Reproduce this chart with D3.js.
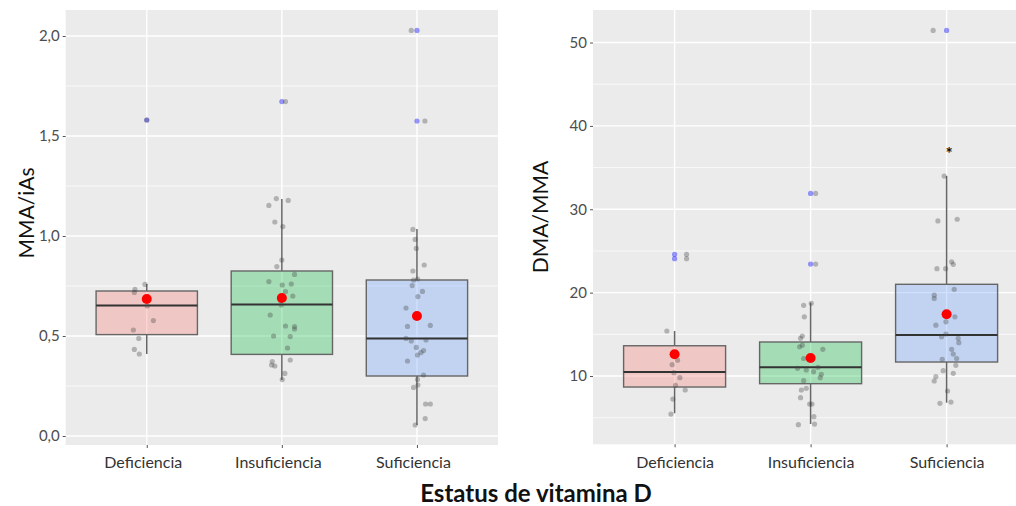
<!DOCTYPE html>
<html><head><meta charset="utf-8">
<script src="https://cdn.jsdelivr.net/npm/d3@7"></script>
<style>body{margin:0;background:#fff}svg{display:block;font-family:Lato,"Open Sans",sans-serif}</style>
</head><body><svg id="c" width="1016" height="506"></svg>
<script>
// ---------- data ----------
const categories = ["Deficiencia", "Insuficiencia", "Suficiencia"];

// Left panel: MMA/iAs
const mmaTicks = [0, 0.5, 1.0, 1.5, 2.0];
const mmaTickLabels = ["0,0", "0,5", "1,0", "1,5", "2,0"];
const mmaMinor = [0.25, 0.75, 1.25, 1.75];
const mmaQ1 = [0.507, 0.408, 0.300];
const mmaMedian = [0.652, 0.657, 0.487];
const mmaQ3 = [0.725, 0.825, 0.780];
const mmaWhiskerLow = [0.410, 0.280, 0.055];
const mmaWhiskerHigh = [0.760, 1.185, 1.035];
const mmaMean = [0.685, 0.690, 0.600];
const mmaOutliers = [[1.58], [1.672], [2.028, 1.575]];
// observed points: [value, horizontal jitter in category units]
const mmaDef = [[0.758,-0.013],[0.733,-0.087],[0.718,-0.092],[0.65,0.004],[0.577,0.049],[0.53,-0.099],[0.488,-0.059],[0.433,-0.092],[0.41,-0.055],[1.58,0]];
const mmaIns = [[0.88,0],[0.847,-0.037],[0.808,0.094],[0.772,-0.096],[0.755,0.003],[0.76,0.07],[0.722,0.027],[0.70,0.081],[0.677,-0.01],[0.655,-0.004],[0.605,-0.086],[0.55,0.027],[0.547,0.094],[0.535,0.094],[0.50,-0.061],[0.497,0.062],[0.44,0.042],[0.38,0.062],[0.372,-0.071],[0.355,-0.076],[0.35,-0.052],[0.313,0.022],[0.282,0.003],[1.153,-0.096],[1.187,-0.041],[1.178,0.047],[1.07,-0.052],[1.047,0.007],[1.672,0.027]];
const mmaSuf = [[2.028,-0.042],[1.575,0.059],[1.033,-0.03],[0.983,-0.013],[0.938,-0.005],[0.855,0.054],[0.825,-0.03],[0.78,-0.025],[0.785,0.005],[0.752,-0.035],[0.723,0.041],[0.697,0.007],[0.64,-0.081],[0.548,-0.07],[0.553,0.099],[0.488,-0.081],[0.475,-0.042],[0.48,0.067],[0.443,-0.005],[0.427,0.049],[0.417,0.03],[0.405,0.004],[0.375,-0.07],[0.305,0.049],[0.283,0.004],[0.255,0.007],[0.243,-0.025],[0.16,0.064],[0.16,0.099],[0.087,0.061],[0.055,-0.013]];

// Right panel: DMA/MMA
const dmaTicks = [10, 20, 30, 40, 50];
const dmaTickLabels = ["10", "20", "30", "40", "50"];
const dmaMinor = [5, 15, 25, 35, 45];
const dmaQ1 = [8.68, 9.08, 11.68];
const dmaMedian = [10.48, 11.04, 14.92];
const dmaQ3 = [13.63, 14.08, 21.0];
const dmaWhiskerLow = [5.53, 4.24, 6.8];
const dmaWhiskerHigh = [15.4, 18.8, 34.0];
const dmaMean = [12.6, 12.16, 17.4];
const dmaOutliers = [[24.6, 24.07], [31.9, 23.43], [51.45]];
const dmaSignif = [null, null, 36.9];
const dmaDef = [[15.4,-0.057],[11.36,-0.018],[11.9,0.022],[10.4,-0.005],[9.8,0.039],[8.88,0.007],[8.32,0.078],[7.24,-0.013],[5.44,-0.027],[24.6,0.088],[24.07,0.088]];
const dmaIns = [[23.43,0.037],[31.9,0.037],[18.72,0.005],[18.48,-0.051],[17.1,-0.046],[14.8,-0.061],[14.52,-0.074],[13.5,-0.081],[13.2,0.09],[13.7,-0.061],[12.1,-0.051],[10.92,-0.096],[10.72,-0.032],[10.52,0.022],[11.04,0.054],[10.2,0.079],[9.8,0.071],[9.44,-0.051],[8.32,-0.068],[8.52,-0.032],[7.4,-0.074],[6.64,-0.007],[6.64,0.01],[5.12,0.024],[4.16,-0.09],[4.24,0.029]];
const dmaSuf = [[51.45,-0.099],[33.98,-0.018],[28.6,-0.064],[28.8,0.078],[22.87,-0.071],[22.87,-0.007],[23.7,0.037],[23.4,0.049],[20.4,0.056],[19.7,-0.091],[19.3,-0.091],[17.5,-0.007],[17.1,0.061],[16.5,-0.005],[16.1,-0.079],[14.7,-0.037],[15.04,-0.005],[14.52,0.085],[14.0,0.09],[13.2,0.037],[12.64,0.049],[12.0,-0.032],[12.1,0.074],[11.28,0.068],[10.64,-0.025],[10.32,0.049],[9.92,-0.079],[9.4,-0.091],[8.2,0.007],[6.72,-0.049],[6.88,0.032]];

// ---------- drawing ----------
const fills = ["#F8766D", "#00BA38", "#619CFF"];
const svg = d3.select("#c");

function panel(cfg) {
  const g = svg.append("g");
  const x = d3.scaleLinear().domain([0.4, 3.6]).range([cfg.left, cfg.right]);
  const y = d3.scaleLinear().domain(cfg.ydomain).range([cfg.bottom, cfg.top]);
  const cx = i => x(i + 1);
  // background
  g.append("rect").attr("x", cfg.left).attr("y", cfg.top)
    .attr("width", cfg.right - cfg.left).attr("height", cfg.bottom - cfg.top).attr("fill", "#EBEBEB");
  // minor grid
  g.selectAll(".mn").data(cfg.minor).join("line")
    .attr("x1", cfg.left).attr("x2", cfg.right).attr("y1", d => y(d)).attr("y2", d => y(d))
    .attr("stroke", "#fff").attr("stroke-width", 0.7);
  // major grid
  g.selectAll(".mj").data(cfg.ticks).join("line")
    .attr("x1", cfg.left).attr("x2", cfg.right).attr("y1", d => y(d)).attr("y2", d => y(d))
    .attr("stroke", "#fff").attr("stroke-width", 1.4);
  g.selectAll(".vx").data(categories).join("line")
    .attr("x1", (d, i) => cx(i)).attr("x2", (d, i) => cx(i)).attr("y1", cfg.top).attr("y2", cfg.bottom)
    .attr("stroke", "#fff").attr("stroke-width", 1.4);

  // y axis
  const yAxis = d3.axisLeft(y).tickValues(cfg.ticks).tickFormat((d, i) => cfg.tickLabels[i])
    .tickSize(3).tickPadding(3);
  const ya = g.append("g").attr("transform", `translate(${cfg.left},0)`).call(yAxis);
  ya.select(".domain").remove();
  ya.selectAll("line").attr("stroke", "#555");
  ya.selectAll("text").attr("fill", "#4D4D4D").style("font-size", "15px").style("font-family", "Lato");
  // x axis
  const xAxis = d3.axisBottom(x).tickValues([1, 2, 3]).tickFormat((d, i) => categories[i])
    .tickSize(3).tickPadding(9);
  const xa = g.append("g").attr("transform", `translate(0,${cfg.bottom})`).call(xAxis);
  xa.select(".domain").remove();
  xa.selectAll("line").attr("stroke", "#555");
  xa.selectAll("text").attr("fill", "#333").attr("dx", cfg.labelDx).style("font-size", "16px").style("font-family", "Lato");

  // boxes
  const bw = 0.375;
  categories.forEach((c, i) => {
    const gg = g.append("g");
    gg.append("line").attr("x1", cx(i)).attr("x2", cx(i))
      .attr("y1", y(cfg.whLow[i])).attr("y2", y(cfg.q1[i])).attr("stroke", "#666").attr("stroke-width", 1.5);
    gg.append("line").attr("x1", cx(i)).attr("x2", cx(i))
      .attr("y1", y(cfg.whHigh[i])).attr("y2", y(cfg.q3[i])).attr("stroke", "#666").attr("stroke-width", 1.5);
    gg.append("rect").attr("x", x(i + 1 - bw)).attr("width", x(i + 1 + bw) - x(i + 1 - bw))
      .attr("y", y(cfg.q3[i])).attr("height", y(cfg.q1[i]) - y(cfg.q3[i]))
      .attr("fill", fills[i]).attr("fill-opacity", 0.3).attr("stroke", "#666").attr("stroke-width", 1.4);
    gg.append("line").attr("x1", x(i + 1 - bw)).attr("x2", x(i + 1 + bw))
      .attr("y1", y(cfg.median[i])).attr("y2", y(cfg.median[i])).attr("stroke", "#333").attr("stroke-width", 2);
    gg.selectAll(".o").data(cfg.outliers[i]).join("circle")
      .attr("cx", cx(i)).attr("cy", d => y(d)).attr("r", 2.6)
      .attr("fill", "#0000FF").attr("fill-opacity", 0.4);
  });
  // jittered points
  cfg.points.forEach((pts, i) => {
    g.append("g").selectAll("circle").data(pts).join("circle")
      .attr("cx", d => x(i + 1 + d[1])).attr("cy", d => y(d[0])).attr("r", 2.6)
      .attr("fill", "#444").attr("fill-opacity", 0.35);
  });
  // means
  g.append("g").selectAll("circle").data(cfg.mean).join("circle")
    .attr("cx", (d, i) => cx(i)).attr("cy", d => y(d)).attr("r", 5).attr("fill", "#FF0000");
  // significance marks
  if (cfg.signif) {
    const marks = cfg.signif.map((v, i) => ({v, i})).filter(d => d.v !== null);
    g.append("g").selectAll("text").data(marks).join("text")
      .attr("x", d => cx(d.i) + 2.5).attr("y", d => y(d.v) + 8)
      .attr("text-anchor", "middle").attr("fill", "#111").style("font-size", "17px").style("font-weight", "bold")
      .text("*");
  }
  // y title
  g.append("text").attr("transform", `translate(${cfg.titleX},${cfg.titleY}) rotate(-90)`)
    .attr("text-anchor", "middle").attr("fill", "#111").style("font-size", "21px").text(cfg.title);
}

panel({
  left: 65.7, right: 498, top: 10, bottom: 445, ydomain: [-0.045, 2.13],
  ticks: mmaTicks, tickLabels: mmaTickLabels, minor: mmaMinor,
  q1: mmaQ1, median: mmaMedian, q3: mmaQ3, whLow: mmaWhiskerLow, whHigh: mmaWhiskerHigh,
  mean: mmaMean, outliers: mmaOutliers, points: [mmaDef, mmaIns, mmaSuf],
  title: "MMA/iAs", titleX: 34, titleY: 213, labelDx: -4
});
panel({
  left: 593, right: 1028.2, top: 10, bottom: 444.3, ydomain: [1.81, 53.9],
  ticks: dmaTicks, tickLabels: dmaTickLabels, minor: dmaMinor,
  q1: dmaQ1, median: dmaMedian, q3: dmaQ3, whLow: dmaWhiskerLow, whHigh: dmaWhiskerHigh,
  mean: dmaMean, outliers: dmaOutliers, points: [dmaDef, dmaIns, dmaSuf], signif: dmaSignif,
  title: "DMA/MMA", titleX: 548, titleY: 217, labelDx: 0
});

svg.append("text").attr("x", 536).attr("y", 502).attr("text-anchor", "middle")
  .attr("fill", "#111").style("font-size", "24px").style("font-weight", "bold")
  .text("Estatus de vitamina D");
</script>
</body></html>
